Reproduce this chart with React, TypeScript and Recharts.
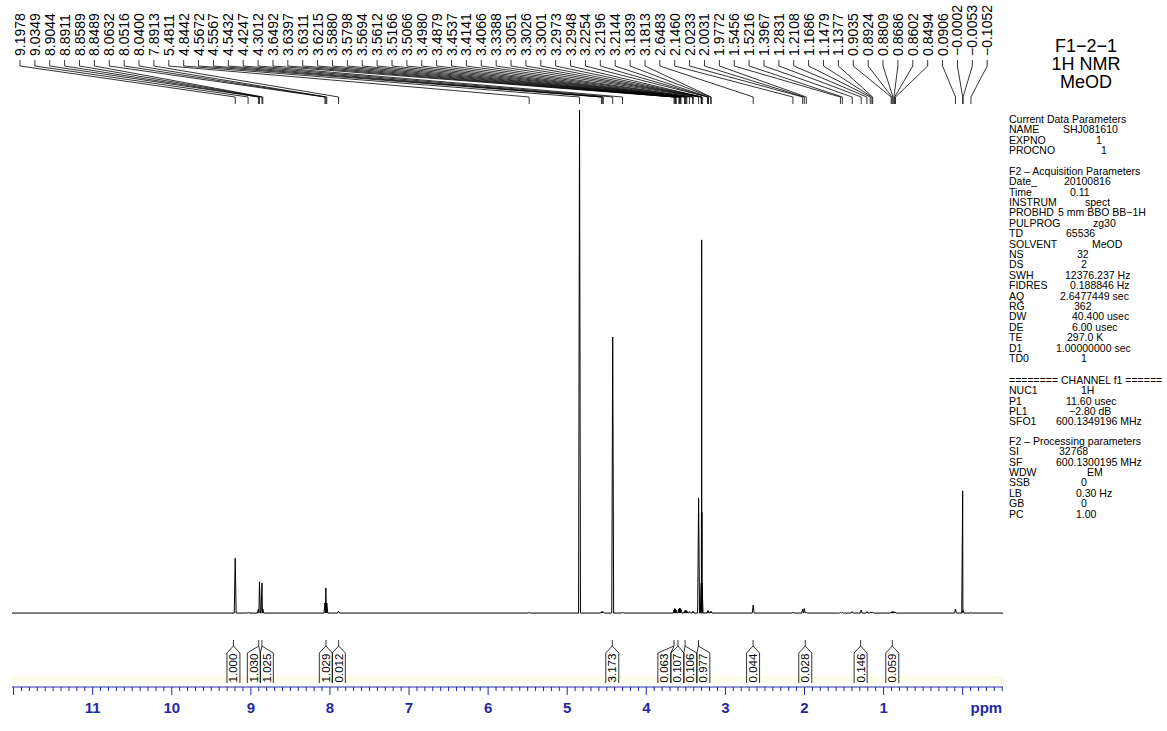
import React from "react";
import { ComposedChart, Line, Scatter, XAxis, YAxis, ReferenceArea } from "recharts";

// peak list as printed above the spectrum (ppm), with apex heights (HOD line = 100)
const PEAK_LABELS = [
  "9.1978", "9.0349", "8.9044", "8.8911", "8.8589", "8.8489", "8.0632", "8.0516", "8.0400", "7.8913",
  "5.4811", "4.8442", "4.5672", "4.5567", "4.5432", "4.4247", "4.3012", "3.6492", "3.6397", "3.6311",
  "3.6215", "3.5880", "3.5798", "3.5694", "3.5612", "3.5166", "3.5066", "3.4980", "3.4879", "3.4537",
  "3.4141", "3.4066", "3.3388", "3.3051", "3.3026", "3.3001", "3.2973", "3.2948", "3.2254", "3.2196",
  "3.2144", "3.1839", "3.1813", "2.6483", "2.1460", "2.0233", "2.0031", "1.9772", "1.5456", "1.5216",
  "1.3967", "1.2831", "1.2108", "1.1686", "1.1479", "1.1377", "0.9035", "0.8924", "0.8809", "0.8686",
  "0.8602", "0.8494", "0.0906", "−0.0002", "−0.0053", "−0.1052",
];
const PEAK_HEIGHTS = [
  10.9, 0.15, 0.8, 6.2, 6.0, 0.8, 2.0, 5.0, 2.0, 0.4,
  0.15, 100, 0.3, 0.3, 0.25, 54.9, 0.2, 0.6, 0.9, 0.8,
  0.6, 0.8, 1.0, 0.9, 0.7, 0.4, 0.6, 0.6, 0.4, 0.3,
  0.3, 0.3, 22.9, 6, 20, 74.2, 20, 6, 0.4, 0.5,
  0.4, 0.3, 0.3, 1.6, 0.15, 0.8, 0.9, 0.2, 0.15, 0.15,
  0.3, 0.6, 0.3, 0.15, 0.2, 0.15, 0.2, 0.3, 0.3, 0.25,
  0.2, 0.15, 0.8, 24.3, 0.5, 0.1,
];

// integrals: printed value and region centre (ppm)
const INTEGRAL_LABELS = ["1.000", "1.030", "1.025", "1.029", "0.012", "3.173", "0.063", "0.107", "0.106", "0.977", "0.044", "0.028", "0.146", "0.059"];
const INTEGRAL_PPM = [9.22, 8.9, 8.86, 8.05, 7.89, 4.43, 3.65, 3.6, 3.51, 3.34, 2.65, 1.99, 1.29, 0.89];

const AXIS_LABELS = [11, 10, 9, 8, 7, 6, 5, 4, 3, 2, 1];
const AXIS_UNIT = "ppm";

const TITLE_LINES = ["F1−2−1", "1H NMR", "MeOD"];

const PARAM_BLOCKS: [string, string][][] = [
  [
    ["Current Data Parameters", ""],
    ["NAME", "SHJ081610"],
    ["EXPNO", "1"],
    ["PROCNO", "1"],
  ],
  [
    ["F2 – Acquisition Parameters", ""],
    ["Date_", "20100816"],
    ["Time", "0.11"],
    ["INSTRUM", "spect"],
    ["PROBHD", "5 mm BBO BB−1H"],
    ["PULPROG", "zg30"],
    ["TD", "65536"],
    ["SOLVENT", "MeOD"],
    ["NS", "32"],
    ["DS", "2"],
    ["SWH", "12376.237 Hz"],
    ["FIDRES", "0.188846 Hz"],
    ["AQ", "2.6477449 sec"],
    ["RG", "362"],
    ["DW", "40.400 usec"],
    ["DE", "6.00 usec"],
    ["TE", "297.0 K"],
    ["D1", "1.00000000 sec"],
    ["TD0", "1"],
  ],
  [
    ["======== CHANNEL f1 ======", ""],
    ["NUC1", "1H"],
    ["P1", "11.60 usec"],
    ["PL1", "−2.80 dB"],
    ["SFO1", "600.1349196 MHz"],
  ],
  [
    ["F2 – Processing parameters", ""],
    ["SI", "32768"],
    ["SF", "600.1300195 MHz"],
    ["WDW", "EM"],
    ["SSB", "0"],
    ["LB", "0.30 Hz"],
    ["GB", "0"],
    ["PC", "1.00"],
  ],
];
// left edge of each value (page px), same order as above
const PARAM_VALUE_X = [
  [0, 1063, 1096, 1101],
  [0, 1064, 1070, 1085, 1058, 1093, 1066, 1092, 1077, 1081, 1065, 1070, 1060, 1074, 1072, 1072, 1067, 1056, 1081],
  [0, 1081, 1066, 1069, 1056],
  [0, 1059, 1056, 1087, 1081, 1076, 1081, 1076],
];
const PARAM_BLOCK_Y = [119, 171, 380, 441];
const PARAM_PITCH = 10.4;

// ---- layout ----
const W = 1167;
const H = 731;
const PLOT_LEFT = 12;
const PLOT_RIGHT = 1003;
const PLOT_BOTTOM = 687;
const PPM_LEFT = 12.02;
const PPM_RIGHT = -0.51;
const PX_PER_PPM = (PLOT_RIGHT - PLOT_LEFT) / (PPM_LEFT - PPM_RIGHT);
const Y_MAX = 121.9;
const Y_MIN = -14.7;
const BLUE = "#2428a6";
const FONT = "'Liberation Sans', Arial, Helvetica, sans-serif";

// page-pixel row -> y value of the chart
const lay = (py: number) => Y_MAX - (py * (Y_MAX - Y_MIN)) / PLOT_BOTTOM;
const ppmAtPx = (px: number) => PPM_LEFT - (px - PLOT_LEFT) / PX_PER_PPM;

const toNum = (s: string) => parseFloat(s.replace("−", "-"));

const peaks = PEAK_LABELS.map((l, i) => ({ ppm: toNum(l), h: PEAK_HEIGHTS[i] }));

// spectrum line: baseline with a narrow line shape at each peak
const FOOT = 0.012;
const spectrum: { x: number; y: number }[] = [{ x: PPM_LEFT, y: 0 }];
peaks.forEach((p, i) => {
  const prev = i > 0 ? peaks[i - 1].ppm : Infinity;
  const next = i < peaks.length - 1 ? peaks[i + 1].ppm : -Infinity;
  spectrum.push({ x: p.ppm + Math.min(FOOT, (prev - p.ppm) / 2), y: 0 });
  spectrum.push({ x: p.ppm, y: p.h });
  spectrum.push({ x: p.ppm - Math.min(FOOT, (p.ppm - next) / 2), y: 0 });
});
spectrum.push({ x: PPM_RIGHT, y: 0 });

// peak label slots spread evenly across the top
const SLOT0 = 20;
const SLOT_STEP = 14.88;
const labelPoints = PEAK_LABELS.map((l, i) => ({ x: ppmAtPx(SLOT0 + i * SLOT_STEP), y: lay(56), label: l }));
const fanLines: { x: number; y: number | null }[] = [];
peaks.forEach((p, i) => {
  const sx = labelPoints[i].x;
  fanLines.push({ x: sx, y: lay(60) }, { x: sx, y: lay(66) }, { x: p.ppm, y: lay(97) }, { x: p.ppm, y: lay(104) }, { x: p.ppm, y: null });
});

// integral boxes, pushed apart where they would overlap
const BOX_W = 13 / PX_PER_PPM;
type Cluster = { idx: number[]; mean: number };
const placeCluster = (c: Cluster) => c.idx.map((_, k) => c.mean + ((c.idx.length - 1) / 2 - k) * BOX_W);
let clusters: Cluster[] = INTEGRAL_PPM.map((p, i) => ({ idx: [i], mean: p }));
for (let changed = true; changed; ) {
  changed = false;
  for (let i = 0; i < clusters.length - 1; i++) {
    const a = placeCluster(clusters[i]);
    const b = placeCluster(clusters[i + 1]);
    if (a[a.length - 1] - b[0] < BOX_W - 1e-9) {
      const idx = [...clusters[i].idx, ...clusters[i + 1].idx];
      const mean = idx.reduce((s, j) => s + INTEGRAL_PPM[j], 0) / idx.length;
      clusters.splice(i, 2, { idx, mean });
      changed = true;
      break;
    }
  }
}
const boxCentres: number[] = [];
clusters.forEach((c) => {
  const pos = placeCluster(c);
  c.idx.forEach((j, k) => (boxCentres[j] = pos[k]));
});

const integralOutline: { x: number; y: number | null }[] = [];
INTEGRAL_PPM.forEach((t, i) => {
  const c = boxCentres[i];
  const l = c + BOX_W / 2;
  const r = c - BOX_W / 2;
  integralOutline.push(
    { x: l, y: lay(683) }, { x: l, y: lay(653) }, { x: t, y: lay(646) }, { x: r, y: lay(653) }, { x: r, y: lay(683) }, { x: r, y: null },
    { x: t, y: lay(646) }, { x: t, y: lay(640) }, { x: t, y: null },
  );
});
const integralPoints = INTEGRAL_LABELS.map((l, i) => ({ x: boxCentres[i], y: lay(668), label: l }));

const TICKS: number[] = [];
for (let k = 0; k <= 125; k++) TICKS.push(Math.round((12 - k * 0.1) * 10) / 10);
const UNIT_TICK = -0.3;

function AxisTick(props: any) {
  const { x, y, payload } = props;
  const v = payload.value as number;
  const major = Math.abs(v - Math.round(v)) < 1e-6;
  let label: string | null = null;
  if (AXIS_LABELS.includes(v)) label = String(v);
  else if (Math.abs(v - UNIT_TICK) < 1e-6) label = AXIS_UNIT;
  return (
    <g>
      <line x1={x} x2={x} y1={y} y2={y + (major ? 8 : 4)} stroke={BLUE} strokeWidth={1} />
      {label && (
        <text x={x} y={y + 26} textAnchor="middle" fill={BLUE} fontSize={15} fontWeight="bold" fontFamily={FONT}>
          {label}
        </text>
      )}
    </g>
  );
}

function PeakLabel(props: any) {
  const { cx, cy, payload } = props;
  return (
    <text x={cx} y={cy} transform={`rotate(-90 ${cx} ${cy})`} textAnchor="start" dominantBaseline="central" fontSize={14} fontFamily={FONT} fill="#000">
      {payload.label}
    </text>
  );
}

function IntegralLabel(props: any) {
  const { cx, cy, payload } = props;
  return (
    <text x={cx} y={cy} transform={`rotate(-90 ${cx} ${cy})`} textAnchor="middle" dominantBaseline="central" fontSize={11.5} fontFamily={FONT} fill="#000">
      {payload.label}
    </text>
  );
}

function ParamPanel() {
  const rows: React.ReactNode[] = [];
  PARAM_BLOCKS.forEach((block, b) => {
    block.forEach(([k, v], r) => {
      const y = PARAM_BLOCK_Y[b] + r * PARAM_PITCH + 3.8;
      rows.push(
        <text key={`k${b}-${r}`} x={1009} y={y} fontSize={10.5} fontFamily={FONT} fill="#000">
          {k}
        </text>,
      );
      if (v)
        rows.push(
          <text key={`v${b}-${r}`} x={PARAM_VALUE_X[b][r]} y={y} fontSize={10.5} fontFamily={FONT} fill="#000">
            {v}
          </text>,
        );
    });
  });
  return (
    <svg width={W} height={H} style={{ position: "absolute", left: 0, top: 0, pointerEvents: "none" }}>
      {TITLE_LINES.map((t, i) => (
        <text key={t} x={1086} y={52 + i * 18} textAnchor="middle" fontSize={18} fontFamily={FONT} fill="#000">
          {t}
        </text>
      ))}
      {rows}
    </svg>
  );
}

export default function App() {
  return (
    <div style={{ position: "absolute", left: 0, top: 0, width: W, height: H, background: "#fff" }}>
      <ComposedChart width={W} height={H} margin={{ top: 0, right: W - PLOT_RIGHT, bottom: 0, left: PLOT_LEFT }}>
        <XAxis
          type="number"
          dataKey="x"
          domain={[PPM_RIGHT, PPM_LEFT]}
          reversed
          allowDataOverflow
          ticks={TICKS}
          interval={0}
          tick={<AxisTick />}
          tickLine={false}
          tickSize={0}
          tickMargin={0}
          height={H - PLOT_BOTTOM}
          axisLine={{ stroke: BLUE, strokeWidth: 1 }}
        />
        <YAxis hide type="number" dataKey="y" domain={[Y_MIN, Y_MAX]} allowDataOverflow />
        <ReferenceArea y1={lay(683)} y2={lay(676)} fill="#fdfbe9" fillOpacity={1} stroke="none" />
        <Line data={spectrum} dataKey="y" type="linear" stroke="#000" strokeWidth={1} dot={false} activeDot={false} isAnimationActive={false} />
        <Line data={fanLines} dataKey="y" type="linear" stroke="#000" strokeWidth={0.8} dot={false} activeDot={false} connectNulls={false} isAnimationActive={false} />
        <Line data={integralOutline} dataKey="y" type="linear" stroke="#000" strokeWidth={0.8} dot={false} activeDot={false} connectNulls={false} isAnimationActive={false} />
        <Scatter data={labelPoints} dataKey="y" shape={(p: any) => <PeakLabel {...p} />} isAnimationActive={false} />
        <Scatter data={integralPoints} dataKey="y" shape={(p: any) => <IntegralLabel {...p} />} isAnimationActive={false} />
      </ComposedChart>
      <ParamPanel />
    </div>
  );
}
